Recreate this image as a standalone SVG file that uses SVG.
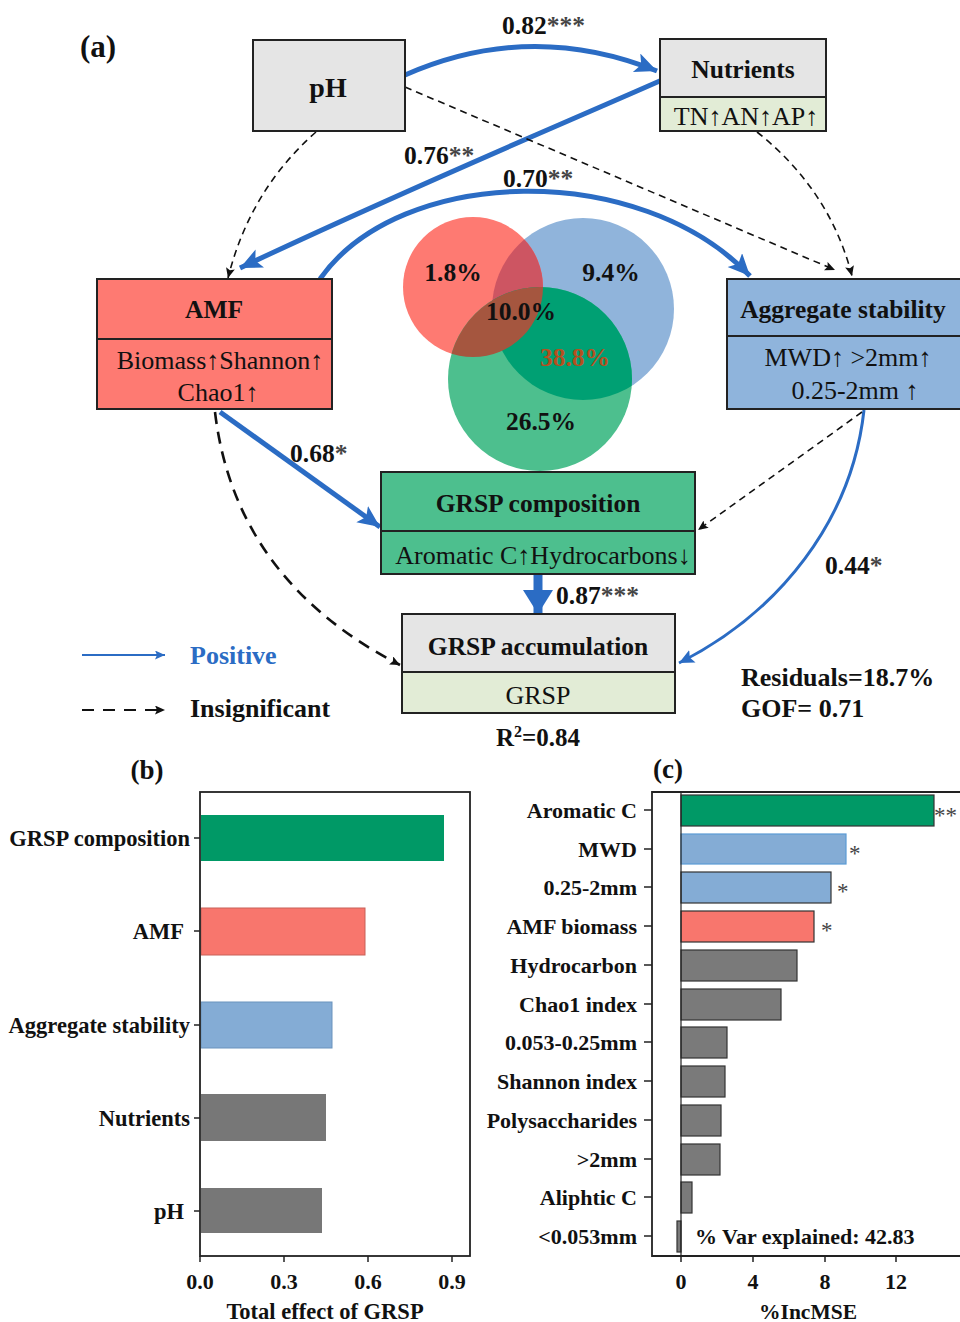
<svg xmlns="http://www.w3.org/2000/svg" width="960" height="1322" viewBox="0 0 960 1322">
<style>
text{font-family:"Liberation Serif","Times New Roman",serif;fill:#111}
.b{font-weight:bold}
.box{stroke:#222;stroke-width:2}
.gray{fill:#e5e5e5}
.lg{fill:#e2ecd6}
.pos{fill:none;stroke:#2b6cc4;stroke-width:5}
.ins{fill:none;stroke:#111;stroke-width:1.6;stroke-dasharray:7,5}
.ast{fill:#444}
.ax{fill:none;stroke:#222;stroke-width:1.8}
.tk{stroke:#222;stroke-width:1.5}
.lab{font-weight:bold;font-size:22px}
.bl{font-weight:bold;font-size:22.5px}
.nt{font-size:26px}
.nb{font-weight:bold;font-size:25.5px}
.el{font-weight:bold;font-size:25.5px}
</style>
<defs>
<marker id="ab" markerUnits="userSpaceOnUse" markerWidth="26" markerHeight="22" refX="22" refY="10" orient="auto">
<path d="M0,0 L22,10 L0,20 L5,10 z" fill="#2b6cc4"/>
</marker>
<marker id="abd" markerUnits="userSpaceOnUse" markerWidth="28" markerHeight="32" refX="24" refY="15" orient="auto">
<path d="M0,0 L24,15 L0,30 z" fill="#2b6cc4"/>
</marker>
<marker id="abs" markerUnits="userSpaceOnUse" markerWidth="18" markerHeight="16" refX="15" refY="7" orient="auto">
<path d="M0,0 L15,7 L0,14 L3,7 z" fill="#2b6cc4"/>
</marker>
<marker id="abl" markerUnits="userSpaceOnUse" markerWidth="12" markerHeight="10" refX="10" refY="4.5" orient="auto">
<path d="M0,0 L10,4.5 L0,9 L2,4.5 z" fill="#2b6cc4"/>
</marker>
<marker id="ak" markerUnits="userSpaceOnUse" markerWidth="12" markerHeight="10" refX="10" refY="4.5" orient="auto">
<path d="M0,0 L10,4.5 L0,9 L2,4.5 z" fill="#111"/>
</marker>
<clipPath id="cr"><circle cx="473" cy="287" r="70"/></clipPath>
<clipPath id="cb"><circle cx="583" cy="309" r="91"/></clipPath>
</defs>

<text class="b" x="80" y="57" font-size="31">(a)</text>

<!-- Venn -->
<g id="venn">
<circle cx="583" cy="309" r="91" fill="#90b4db"/>
<circle cx="473" cy="287" r="70" fill="#fe7a72"/>
<circle cx="540" cy="379" r="92" fill="#4dbf8e"/>
<circle cx="583" cy="309" r="91" fill="#cd5562" clip-path="url(#cr)"/>
<circle cx="540" cy="379" r="92" fill="#00a073" clip-path="url(#cb)"/>
<circle cx="540" cy="379" r="92" fill="#a5563f" clip-path="url(#cr)"/>
<text class="el" x="453" y="281" text-anchor="middle">1.8%</text>
<text class="el" x="611" y="281" text-anchor="middle">9.4%</text>
<text class="el" x="521" y="320" text-anchor="middle">10.0%</text>
<text class="el" x="575" y="366" text-anchor="middle" style="fill:#b5501f">38.8%</text>
<text class="el" x="541" y="430" text-anchor="middle">26.5%</text>
</g>

<!-- connectors -->
<g id="connectors">
<path class="pos" d="M405,75 Q530,20 657,71" marker-end="url(#ab)"/>
<path class="pos" d="M662,80 C560,125 400,192 240,268" marker-end="url(#ab)"/>
<path class="pos" d="M320,279 C400,165 640,160 750,276" marker-end="url(#ab)"/>
<path class="pos" d="M220,412 L380,527" marker-end="url(#ab)"/>
<path class="pos" d="M538,575 L538,614" style="stroke-width:9" marker-end="url(#abd)"/>
<path class="pos" d="M864,410 C852,520 780,612 679,663" style="stroke-width:3" marker-end="url(#abs)"/>
<path class="ins" d="M316,132 Q250,190 228,278" marker-end="url(#ak)"/>
<path class="ins" d="M405,87 L835,270" marker-end="url(#ak)"/>
<path class="ins" d="M757,132 Q830,190 852,276" marker-end="url(#ak)"/>
<path class="ins" d="M215,412 Q235,580 400,665" style="stroke-width:2.6;stroke-dasharray:12,8" marker-end="url(#ak)"/>
<path class="ins" d="M862,412 L698,530" marker-end="url(#ak)"/>
<text class="el" x="502" y="34">0.82<tspan class="ast">***</tspan></text>
<text class="el" x="404" y="164">0.76<tspan class="ast">**</tspan></text>
<text class="el" x="503" y="187">0.70<tspan class="ast">**</tspan></text>
<text class="el" x="290" y="462">0.68<tspan class="ast">*</tspan></text>
<text class="el" x="556" y="604">0.87<tspan class="ast">***</tspan></text>
<text class="el" x="825" y="574">0.44<tspan class="ast">*</tspan></text>
</g>

<g id="pH">
<rect class="box gray" x="253" y="40" width="152" height="91"/>
<text class="b" x="328" y="97" font-size="28" text-anchor="middle">pH</text>
</g>

<g id="nutrients">
<rect class="box gray" x="660" y="39" width="166" height="58"/>
<rect class="box lg" x="660" y="97" width="166" height="34"/>
<text class="nb" x="743" y="78" text-anchor="middle">Nutrients</text>
<text class="nt" x="746" y="125" text-anchor="middle">TN↑AN↑AP↑</text>
</g>

<g id="amf">
<rect class="box" x="97" y="279" width="235" height="130" fill="#fe7a72"/>
<line class="box" x1="97" y1="339" x2="332" y2="339"/>
<text class="nb" x="214" y="318" text-anchor="middle">AMF</text>
<text class="nt" x="220" y="369" text-anchor="middle">Biomass↑Shannon↑</text>
<text class="nt" x="218" y="401" text-anchor="middle">Chao1↑</text>
</g>

<g id="aggregate">
<rect class="box" x="727" y="279" width="240" height="130" fill="#8fb4dc"/>
<line class="box" x1="727" y1="336" x2="967" y2="336"/>
<text class="nb" x="843" y="318" text-anchor="middle">Aggregate stability</text>
<text class="nt" x="848" y="366" text-anchor="middle">MWD↑ &gt;2mm↑</text>
<text class="nt" x="855" y="399" text-anchor="middle">0.25-2mm ↑</text>
</g>

<g id="grsp-composition">
<rect class="box" x="381" y="472" width="314" height="102" fill="#4dbf8e"/>
<line class="box" x1="381" y1="531" x2="695" y2="531"/>
<text class="nb" x="538" y="512" text-anchor="middle">GRSP composition</text>
<text class="nt" x="543" y="564" text-anchor="middle">Aromatic C↑Hydrocarbons↓</text>
</g>

<g id="grsp-accumulation">
<rect class="box gray" x="402" y="614" width="273" height="58"/>
<rect class="box lg" x="402" y="672" width="273" height="41"/>
<text class="nb" x="538" y="655" text-anchor="middle">GRSP accumulation</text>
<text class="nt" x="538" y="704" text-anchor="middle">GRSP</text>
</g>

<text class="b" x="538" y="746" font-size="25" text-anchor="middle">R<tspan font-size="16" dy="-9">2</tspan><tspan dy="9">=0.84</tspan></text>
<text class="b" x="741" y="686" font-size="26">Residuals=18.7%</text>
<text class="b" x="741" y="717" font-size="26">GOF= 0.71</text>

<g id="legend">
<path d="M82,655 L165,655" stroke="#2b6cc4" stroke-width="2" fill="none" marker-end="url(#abl)"/>
<text class="b" x="190" y="664" font-size="26" style="fill:#2b6cc4">Positive</text>
<path d="M82,710 L165,710" stroke="#111" stroke-width="2.2" stroke-dasharray="12,9" fill="none" marker-end="url(#ak)"/>
<text class="b" x="190" y="717" font-size="26">Insignificant</text>
</g>

<!-- panel b -->
<g id="panel-b">
<text class="b" x="147" y="779" font-size="27" text-anchor="middle">(b)</text>
<rect x="201" y="815" width="243" height="46" fill="#009966"/>
<rect x="201" y="908" width="164" height="47" fill="#f8766d" stroke="#c86058" stroke-width="1"/>
<rect x="201" y="1002" width="131" height="46" fill="#84acd5" stroke="#6a93bd" stroke-width="1"/>
<rect x="201" y="1094" width="125" height="47" fill="#777"/>
<rect x="201" y="1188" width="121" height="45" fill="#777"/>
<rect class="ax" x="200" y="792" width="270" height="464"/>
<line class="tk" x1="194" y1="838" x2="200" y2="838"/>
<line class="tk" x1="194" y1="931" x2="200" y2="931"/>
<line class="tk" x1="194" y1="1025" x2="200" y2="1025"/>
<line class="tk" x1="194" y1="1118" x2="200" y2="1118"/>
<line class="tk" x1="194" y1="1211" x2="200" y2="1211"/>
<text class="bl" x="190" y="846" text-anchor="end">GRSP composition</text>
<text class="bl" x="184" y="939" text-anchor="end">AMF</text>
<text class="bl" x="190" y="1033" text-anchor="end">Aggregate stability</text>
<text class="bl" x="190" y="1126" text-anchor="end">Nutrients</text>
<text class="bl" x="184" y="1219" text-anchor="end">pH</text>
<line class="tk" x1="200" y1="1256" x2="200" y2="1262"/>
<line class="tk" x1="284" y1="1256" x2="284" y2="1262"/>
<line class="tk" x1="368" y1="1256" x2="368" y2="1262"/>
<line class="tk" x1="452" y1="1256" x2="452" y2="1262"/>
<text class="lab" x="200" y="1289" text-anchor="middle">0.0</text>
<text class="lab" x="284" y="1289" text-anchor="middle">0.3</text>
<text class="lab" x="368" y="1289" text-anchor="middle">0.6</text>
<text class="lab" x="452" y="1289" text-anchor="middle">0.9</text>
<text class="b" x="325" y="1319" text-anchor="middle" font-size="22.5">Total effect of GRSP</text>
</g>

<!-- panel c -->
<g id="panel-c">
<text class="b" x="668" y="778" font-size="27" text-anchor="middle">(c)</text>
<rect x="681" y="795" width="253" height="31" fill="#009966" stroke="#333" stroke-width="1.2"/>
<rect x="681" y="834" width="165" height="30" fill="#84acd5" stroke="#5b9bd5" stroke-width="1.2"/>
<rect x="681" y="872" width="150" height="31" fill="#84acd5" stroke="#333" stroke-width="1.2"/>
<rect x="681" y="911" width="133" height="31" fill="#f8766d" stroke="#333" stroke-width="1.2"/>
<rect x="681" y="950" width="116" height="31" fill="#7a7a7a" stroke="#333" stroke-width="1.2"/>
<rect x="681" y="989" width="100" height="31" fill="#7a7a7a" stroke="#333" stroke-width="1.2"/>
<rect x="681" y="1027" width="46" height="31" fill="#7a7a7a" stroke="#333" stroke-width="1.2"/>
<rect x="681" y="1066" width="44" height="31" fill="#7a7a7a" stroke="#333" stroke-width="1.2"/>
<rect x="681" y="1105" width="40" height="31" fill="#7a7a7a" stroke="#333" stroke-width="1.2"/>
<rect x="681" y="1144" width="39" height="31" fill="#7a7a7a" stroke="#333" stroke-width="1.2"/>
<rect x="681" y="1182" width="11" height="31" fill="#7a7a7a" stroke="#333" stroke-width="1.2"/>
<rect x="677" y="1221" width="4" height="31" fill="#7a7a7a" stroke="#333" stroke-width="1.2"/>
<line x1="681" y1="792" x2="681" y2="1256" stroke="#222" stroke-width="1.2"/>
<path class="ax" d="M962,792 L652,792 L652,1256 L962,1256"/>
<text x="934" y="823" font-size="23" class="ast">**</text>
<text x="849" y="861" font-size="23" class="ast">*</text>
<text x="837" y="899" font-size="23" class="ast">*</text>
<text x="821" y="938" font-size="23" class="ast">*</text>
<g>
<line class="tk" x1="644" y1="810" x2="652" y2="810"/>
<line class="tk" x1="644" y1="849" x2="652" y2="849"/>
<line class="tk" x1="644" y1="887" x2="652" y2="887"/>
<line class="tk" x1="644" y1="926" x2="652" y2="926"/>
<line class="tk" x1="644" y1="965" x2="652" y2="965"/>
<line class="tk" x1="644" y1="1004" x2="652" y2="1004"/>
<line class="tk" x1="644" y1="1042" x2="652" y2="1042"/>
<line class="tk" x1="644" y1="1081" x2="652" y2="1081"/>
<line class="tk" x1="644" y1="1120" x2="652" y2="1120"/>
<line class="tk" x1="644" y1="1159" x2="652" y2="1159"/>
<line class="tk" x1="644" y1="1197" x2="652" y2="1197"/>
<line class="tk" x1="644" y1="1236" x2="652" y2="1236"/>
</g>
<text class="lab" x="637" y="818" text-anchor="end">Aromatic C</text>
<text class="lab" x="637" y="857" text-anchor="end">MWD</text>
<text class="lab" x="637" y="895" text-anchor="end">0.25-2mm</text>
<text class="lab" x="637" y="934" text-anchor="end">AMF biomass</text>
<text class="lab" x="637" y="973" text-anchor="end">Hydrocarbon</text>
<text class="lab" x="637" y="1012" text-anchor="end">Chao1 index</text>
<text class="lab" x="637" y="1050" text-anchor="end">0.053-0.25mm</text>
<text class="lab" x="637" y="1089" text-anchor="end">Shannon index</text>
<text class="lab" x="637" y="1128" text-anchor="end">Polysaccharides</text>
<text class="lab" x="637" y="1167" text-anchor="end">&gt;2mm</text>
<text class="lab" x="637" y="1205" text-anchor="end">Aliphtic C</text>
<text class="lab" x="637" y="1244" text-anchor="end">&lt;0.053mm</text>
<text class="b" x="695" y="1244" font-size="22">% Var explained: 42.83</text>
<line class="tk" x1="681" y1="1256" x2="681" y2="1262"/>
<line class="tk" x1="753" y1="1256" x2="753" y2="1262"/>
<line class="tk" x1="825" y1="1256" x2="825" y2="1262"/>
<line class="tk" x1="896" y1="1256" x2="896" y2="1262"/>
<text class="lab" x="681" y="1289" text-anchor="middle">0</text>
<text class="lab" x="753" y="1289" text-anchor="middle">4</text>
<text class="lab" x="825" y="1289" text-anchor="middle">8</text>
<text class="lab" x="896" y="1289" text-anchor="middle">12</text>
<text class="b" x="808" y="1319" text-anchor="middle" font-size="21.5">%IncMSE</text>
</g>
</svg>
